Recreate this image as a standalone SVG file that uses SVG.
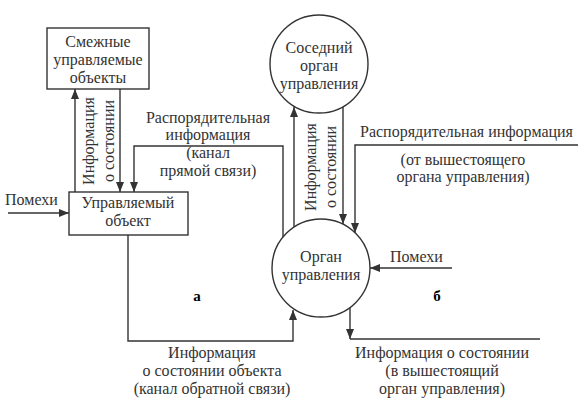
<svg xmlns="http://www.w3.org/2000/svg" width="588" height="415" viewBox="0 0 588 415">
<defs>
<style>
text{font-family:"Liberation Serif","Times New Roman","DejaVu Serif",serif;font-size:16px;fill:#333}
.c{text-anchor:middle}
.b{font-weight:bold;font-size:15px;fill:#000}
.n{fill:#fff;stroke:#333;stroke-width:1.4}
.l{fill:none;stroke:#333;stroke-width:1.4}
</style>
<marker id="ah" viewBox="0 0 10 8" refX="10" refY="4" markerWidth="10" markerHeight="8" markerUnits="userSpaceOnUse" orient="auto">
<path d="M0,0 L10,4 L0,8 Z" fill="#333"/>
</marker>
</defs>
<rect width="588" height="415" fill="#fff"/>
<g id="connectors">
<path class="l" d="M75,192 V89" marker-end="url(#ah)"/>
<path class="l" d="M120,89 V192" marker-end="url(#ah)"/>
<path class="l" d="M283,237 V146 H134 V192" marker-end="url(#ah)"/>
<path class="l" d="M8,213 H69" marker-end="url(#ah)"/>
<path class="l" d="M128,235 V341 H293 V310" marker-end="url(#ah)"/>
<path class="l" d="M294,227 V107" marker-end="url(#ah)"/>
<path class="l" d="M343,107 V224" marker-end="url(#ah)"/>
<path class="l" d="M578,145 H355 V233" marker-end="url(#ah)"/>
<path class="l" d="M452,268 H370" marker-end="url(#ah)"/>
<path class="l" d="M350,308 V339" marker-end="url(#ah)"/>
<path class="l" d="M350,339 H540"/>
</g>
<g id="adjacent-objects">
<rect class="n" x="47" y="28" width="102" height="61"/>
<text class="c" x="98" y="47">Смежные</text>
<text class="c" x="98" y="65">управляемые</text>
<text class="c" x="98" y="83">объекты</text>
</g>
<g id="controlled-object">
<rect class="n" x="69" y="192" width="119" height="43"/>
<text class="c" x="128" y="208">Управляемый</text>
<text class="c" x="128" y="226">объект</text>
</g>
<g id="neighbor-organ">
<circle class="n" cx="319" cy="64" r="49"/>
<text class="c" x="319" y="53">Соседний</text>
<text class="c" x="319" y="71">орган</text>
<text class="c" x="319" y="89">управления</text>
</g>
<g id="control-organ">
<circle class="n" cx="321" cy="268" r="49"/>
<text class="c" x="321" y="262">Орган</text>
<text class="c" x="321" y="280">управления</text>
</g>
<g id="labels">
<text x="5" y="205">Помехи</text>
<text class="c" transform="translate(94,141) rotate(-90)">Информация</text>
<text class="c" transform="translate(114,141) rotate(-90)">о состоянии</text>
<text class="c" transform="translate(316,167) rotate(-90)">Информация</text>
<text class="c" transform="translate(336,167) rotate(-90)">о состоянии</text>
<text class="c" x="208" y="123">Распорядительная</text>
<text class="c" x="208" y="140">информация</text>
<text class="c" x="208" y="158">(канал</text>
<text class="c" x="208" y="176">прямой связи)</text>
<text x="360" y="137">Распорядительная информация</text>
<text class="c" x="463" y="165">(от вышестоящего</text>
<text class="c" x="463" y="182">органа управления)</text>
<text x="390" y="262">Помехи</text>
<text class="c b" x="197" y="301">а</text>
<text class="c b" x="437" y="301">б</text>
<text class="c" x="212" y="358">Информация</text>
<text class="c" x="212" y="376">о состоянии объекта</text>
<text class="c" x="212" y="394">(канал обратной связи)</text>
<text class="c" x="442" y="358">Информация о состоянии</text>
<text class="c" x="442" y="376">(в вышестоящий</text>
<text class="c" x="442" y="394">орган управления)</text>
</g>
</svg>
